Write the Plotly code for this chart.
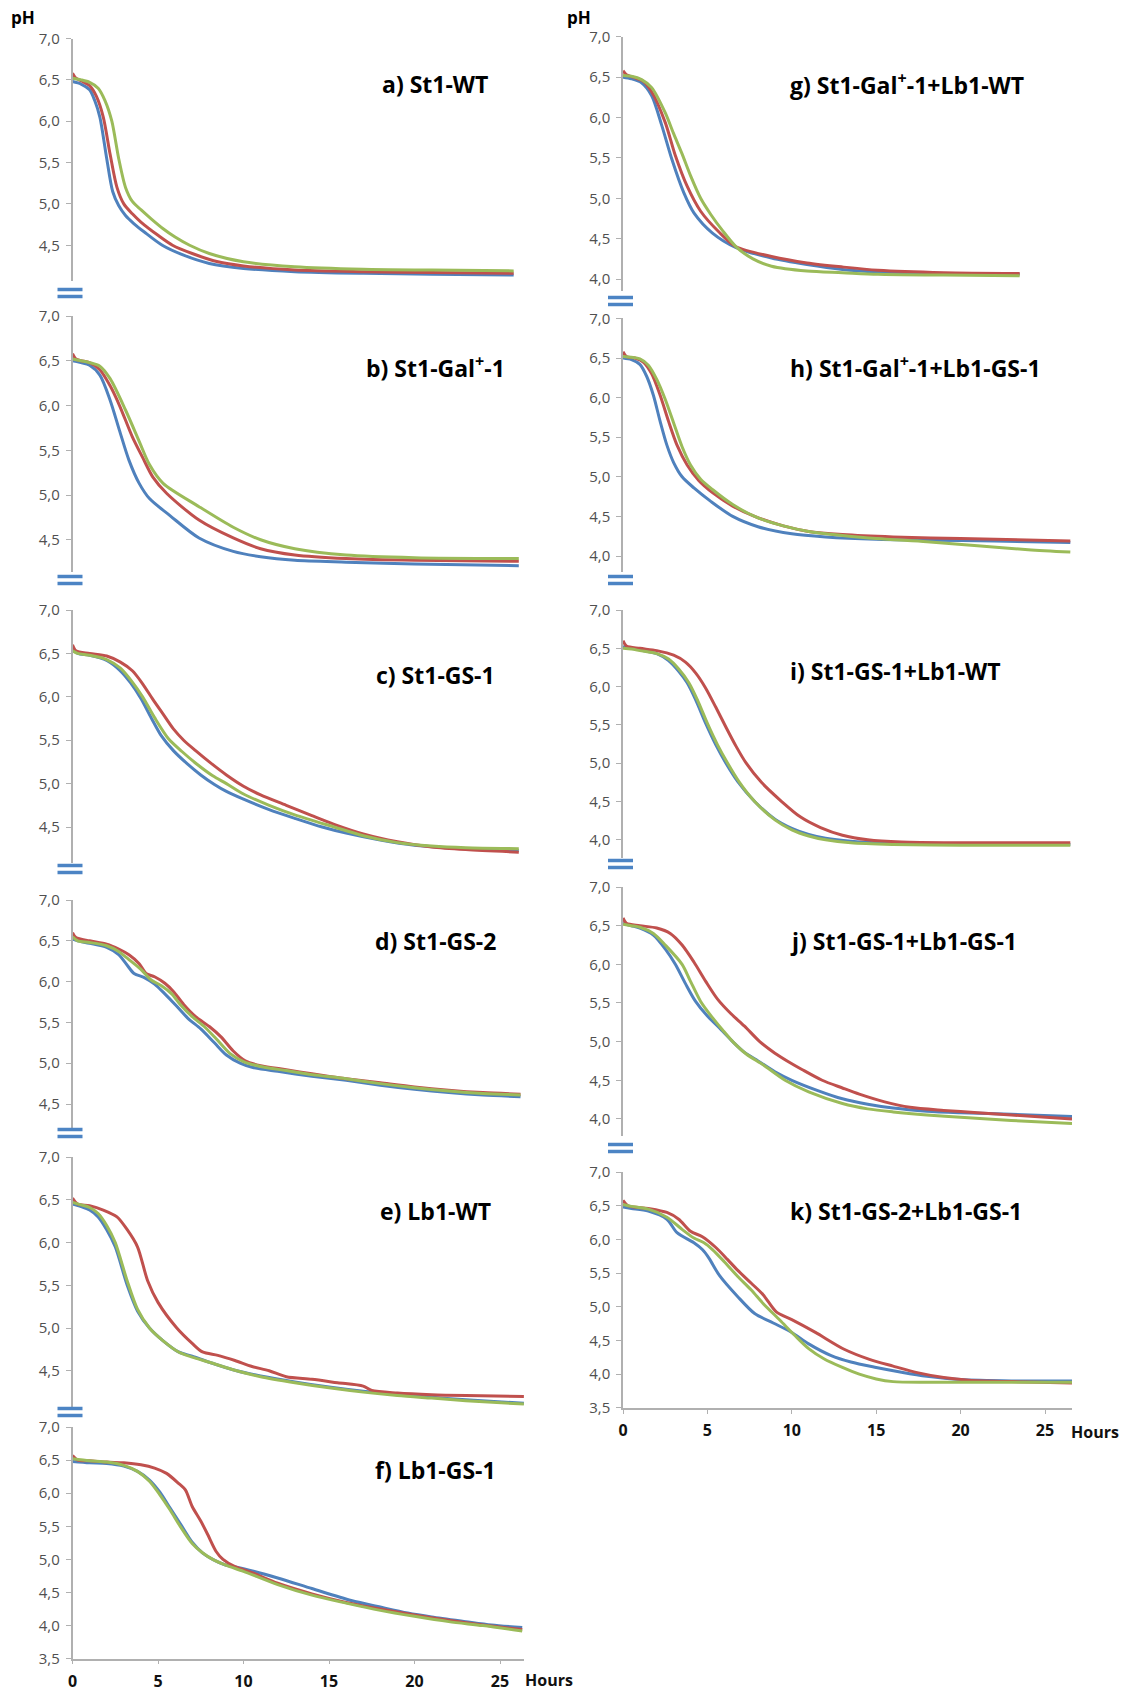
import plotly.graph_objects as go

# ------------------------------------------------------------------
# Data (hours, pH)
# ------------------------------------------------------------------
A_BLUE_T = [0, 0.5, 1, 1.3, 1.6, 2.0, 2.35, 2.7, 3.1, 3.6, 4.2, 5.25, 6.5, 8, 10, 13, 17, 21, 25.8]
A_BLUE_PH = [6.48, 6.45, 6.38, 6.25, 6.05, 5.55, 5.15, 4.98, 4.86, 4.76, 4.66, 4.5, 4.38, 4.28, 4.22, 4.18, 4.16, 4.15, 4.14]
A_RED_T = [0, 0.2, 0.5, 1, 1.4, 1.8, 2.2, 2.6, 3.0, 3.5, 4, 5, 5.85, 7, 8.5, 10, 13, 17, 21, 25.8]
A_RED_PH = [6.58, 6.52, 6.49, 6.43, 6.3, 6.05, 5.6, 5.2, 5.0, 4.88, 4.78, 4.62, 4.5, 4.4, 4.3, 4.25, 4.2, 4.18, 4.17, 4.16]
A_GREEN_T = [0, 0.5, 1, 1.5, 1.9, 2.3, 2.7, 3.1, 3.5, 4.0, 4.6, 5.3, 6.0, 6.85, 8, 10, 13, 17, 21, 25.8]
A_GREEN_PH = [6.52, 6.5, 6.47, 6.4, 6.25, 6.0, 5.55, 5.2, 5.03, 4.93, 4.82, 4.7, 4.6, 4.5, 4.4, 4.3, 4.24, 4.21, 4.2, 4.19]

B_BLUE_T = [0, 0.5, 1, 1.6, 2.2, 2.75, 3.3, 3.9, 4.5, 5.7, 7.4, 9.4, 11, 13, 16, 20, 26.1]
B_BLUE_PH = [6.5, 6.48, 6.45, 6.34, 6.06, 5.72, 5.39, 5.13, 4.96, 4.77, 4.52, 4.37, 4.31, 4.27, 4.25, 4.23, 4.21]
B_RED_T = [0, 0.2, 0.5, 1, 1.6, 2.2, 2.75, 3.5, 4.1, 4.7, 5.5, 7.4, 9.4, 11, 13, 16, 20, 26.1]
B_RED_PH = [6.58, 6.52, 6.5, 6.48, 6.4, 6.22, 6.0, 5.65, 5.42, 5.2, 5.02, 4.72, 4.52, 4.4, 4.33, 4.29, 4.27, 4.26]
B_GREEN_T = [0, 0.5, 1, 1.6, 2.2, 3.1, 3.9, 4.5, 5.3, 7.4, 9.4, 11, 13, 16, 20, 26.1]
B_GREEN_PH = [6.52, 6.5, 6.48, 6.44, 6.3, 5.95, 5.6, 5.34, 5.13, 4.87, 4.64, 4.5, 4.4, 4.33, 4.3, 4.29]

C_BLUE_T = [0, 0.3, 1, 2, 2.8, 3.4, 4, 4.6, 5.2, 5.9, 6.7, 7.5, 8.3, 9, 10, 11.5, 13, 14.6, 16, 18, 20, 22, 24, 26.1]
C_BLUE_PH = [6.55, 6.5, 6.48, 6.42, 6.3, 6.16, 5.98, 5.76, 5.55, 5.38, 5.23, 5.1, 4.99, 4.91, 4.82, 4.7, 4.6, 4.5, 4.43, 4.35, 4.29, 4.26, 4.24, 4.23]
C_RED_T = [0, 0.2, 1, 2, 2.8, 3.5, 4.1, 4.7, 5.3, 5.9, 6.5, 7.2, 8, 9, 10, 11, 12.5, 14, 15.3, 17, 19, 21, 23, 26.1]
C_RED_PH = [6.6, 6.53, 6.5, 6.47, 6.4, 6.3, 6.15, 5.97, 5.8, 5.63, 5.5, 5.38, 5.25, 5.1, 4.97, 4.87, 4.75, 4.63, 4.53, 4.42, 4.33, 4.27, 4.24, 4.21]
C_GREEN_T = [0, 0.3, 1, 2, 2.8, 3.5, 4.1, 4.8, 5.6, 6.4, 7.3, 8.2, 9, 10, 11.5, 13, 15.3, 17, 19, 21, 23, 26.1]
C_GREEN_PH = [6.53, 6.5, 6.48, 6.43, 6.33, 6.17, 6.0, 5.76, 5.52, 5.37, 5.22, 5.09, 5.0, 4.88, 4.75, 4.64, 4.5, 4.4, 4.32, 4.28, 4.26, 4.25]

D_BLUE_T = [0, 0.3, 1, 2, 2.7, 3.2, 3.6, 4.2, 4.8, 5.4, 6, 6.75, 7.5, 8.3, 9, 9.8, 10.5, 12, 14, 16, 18, 20, 22, 24, 26.2]
D_BLUE_PH = [6.52, 6.5, 6.47, 6.42, 6.33, 6.2, 6.1, 6.05, 5.97, 5.85, 5.72, 5.55, 5.42, 5.25, 5.1, 5.0, 4.95, 4.9, 4.84, 4.79, 4.73, 4.68, 4.64, 4.61, 4.59]
D_RED_T = [0, 0.2, 1, 2, 2.7, 3.3, 3.9, 4.3, 4.8, 5.4, 5.9, 6.5, 7.2, 8, 8.7, 9.4, 10.1, 11, 12.5, 14, 16, 18, 20, 22, 24, 26.2]
D_RED_PH = [6.6, 6.54, 6.5, 6.46, 6.4, 6.33, 6.22, 6.1, 6.06, 5.98, 5.88, 5.72, 5.57, 5.45, 5.32, 5.15, 5.03, 4.97, 4.92, 4.87, 4.81, 4.76, 4.71, 4.67, 4.64, 4.62]
D_GREEN_T = [0, 0.3, 1, 2, 2.7, 3.3, 4, 4.6, 5.2, 5.8, 6.3, 7, 7.7, 8.4, 9.2, 10, 11, 12.5, 14, 16, 18, 20, 22, 24, 26.2]
D_GREEN_PH = [6.55, 6.5, 6.48, 6.44, 6.37, 6.27, 6.15, 6.02, 5.95, 5.85, 5.72, 5.57, 5.45, 5.3, 5.12, 5.02, 4.96, 4.91, 4.86, 4.81, 4.75, 4.7, 4.66, 4.63, 4.61]

E_BLUE_T = [0, 0.5, 1, 1.5, 2, 2.5, 3.2, 3.8, 4.5, 5.3, 6.2, 7, 8, 9.6, 11, 13, 15, 17, 19, 21, 23, 26.4]
E_BLUE_PH = [6.45, 6.42, 6.38, 6.3, 6.15, 5.95, 5.5, 5.2, 5.0, 4.85, 4.72, 4.67, 4.6, 4.5, 4.44, 4.37, 4.31, 4.26, 4.22, 4.19, 4.16, 4.12]
E_RED_T = [0, 0.3, 1, 1.8, 2.6, 3.2, 3.8, 4.4, 5, 6.1, 7, 7.6, 8.5, 9.5, 10.5, 11.5, 12.5, 14, 15.5, 17, 17.5, 19, 21, 23, 26.4]
E_RED_PH = [6.52, 6.45, 6.43, 6.38, 6.3, 6.15, 5.95, 5.55, 5.3, 5.0, 4.82, 4.72, 4.68, 4.62, 4.55, 4.5, 4.43, 4.4, 4.36, 4.32, 4.27, 4.24, 4.22, 4.21, 4.2]
E_GREEN_T = [0, 0.5, 1, 1.5, 2, 2.5, 3.2, 3.8, 4.5, 5.3, 6.2, 7, 8, 9.6, 11, 13, 15, 17, 19, 21, 23, 26.4]
E_GREEN_PH = [6.47, 6.44, 6.41, 6.34, 6.2, 6.0, 5.55, 5.22, 5.0, 4.85, 4.72, 4.66, 4.6, 4.5, 4.43, 4.36, 4.3, 4.25, 4.21, 4.18, 4.15, 4.11]

F_BLUE_T = [0, 1, 2, 3, 3.8, 4.5, 5.1, 5.7, 6.4, 7, 7.6, 8.2, 8.9, 10, 12, 14, 16.3, 18, 19.6, 21, 23, 24.5, 26.3]
F_BLUE_PH = [6.48, 6.46, 6.45, 6.41, 6.33, 6.2, 6.02, 5.78, 5.5, 5.26, 5.1, 5.0, 4.92, 4.86, 4.72, 4.56, 4.38, 4.28, 4.19, 4.13, 4.06, 4.01, 3.97]
F_RED_T = [0, 0.3, 1, 2, 3, 4, 4.8, 5.5, 6.2, 6.6, 7, 7.5, 7.9, 8.4, 8.8, 9.5, 10.5, 12, 14, 16, 18, 20, 22, 24, 26.3]
F_RED_PH = [6.57, 6.5, 6.49, 6.47, 6.46, 6.43, 6.38, 6.3, 6.15, 6.05, 5.8, 5.58, 5.38, 5.12, 5.0, 4.89, 4.8, 4.64, 4.48, 4.35, 4.25, 4.16, 4.08, 4.01, 3.94]
F_GREEN_T = [0, 1, 2, 3, 3.8, 4.5, 5.1, 5.7, 6.3, 7, 7.6, 8.2, 9, 10, 12, 14, 16, 18, 20, 22, 24, 26.3]
F_GREEN_PH = [6.52, 6.49, 6.47, 6.42, 6.33, 6.18, 5.98, 5.75, 5.5, 5.24, 5.1, 5.0, 4.91, 4.82, 4.62, 4.46, 4.34, 4.23, 4.14, 4.06, 4.0, 3.92]

G_BLUE_T = [0, 0.5, 1.1, 1.7, 2.3, 2.9, 3.6, 4.2, 5.3, 6.7, 8.8, 10.9, 13, 15.1, 19, 23.5]
G_BLUE_PH = [6.5, 6.48, 6.43, 6.27, 5.9, 5.48, 5.07, 4.82, 4.57, 4.39, 4.26, 4.18, 4.12, 4.09, 4.07, 4.06]
G_RED_T = [0, 0.2, 0.6, 1.2, 1.7, 2.5, 3.1, 3.8, 4.6, 5.7, 6.7, 8.8, 10.9, 13, 15.1, 19, 23.5]
G_RED_PH = [6.58, 6.53, 6.5, 6.45, 6.32, 5.94, 5.53, 5.15, 4.84, 4.58, 4.4, 4.28, 4.2, 4.15, 4.11, 4.08, 4.07]
G_GREEN_T = [0, 0.5, 1.1, 1.7, 2.5, 3.0, 3.5, 4.0, 4.6, 5.2, 5.9, 6.7, 7.7, 8.8, 10.9, 13, 15.1, 19, 23.5]
G_GREEN_PH = [6.52, 6.51, 6.47, 6.37, 6.06, 5.8, 5.55, 5.28, 5.0, 4.8, 4.6, 4.4, 4.25, 4.16, 4.1, 4.08, 4.06, 4.05, 4.04]

H_BLUE_T = [0, 0.5, 1, 1.4, 1.8, 2.2, 2.6, 3.0, 3.5, 4.2, 5.2, 6.5, 8, 10, 12, 15, 18, 22, 26.5]
H_BLUE_PH = [6.5, 6.48, 6.42, 6.27, 6.03, 5.7, 5.4, 5.18, 5.0, 4.86, 4.69, 4.5, 4.37, 4.28, 4.24, 4.21, 4.2, 4.19, 4.17]
H_RED_T = [0, 0.2, 0.7, 1.2, 1.7, 2.2, 2.7, 3.2, 3.8, 4.5, 5.3, 6.5, 7.8, 9.5, 11, 13, 16, 20, 26.5]
H_RED_PH = [6.58, 6.52, 6.5, 6.45, 6.3, 6.03, 5.7, 5.4, 5.15, 4.95, 4.8, 4.63, 4.5, 4.38, 4.31, 4.27, 4.24, 4.22, 4.19]
H_GREEN_T = [0, 0.5, 1, 1.5, 2.0, 2.5, 3.0, 3.5, 4.0, 4.6, 5.3, 6.5, 7.8, 9.5, 11, 13, 15, 18, 21, 24, 26.5]
H_GREEN_PH = [6.52, 6.51, 6.49, 6.41, 6.23, 5.98, 5.68, 5.38, 5.15, 4.97, 4.84, 4.65, 4.5, 4.38, 4.31, 4.26, 4.22, 4.18, 4.13, 4.08, 4.05]

I_BLUE_T = [0, 0.5, 1, 2, 2.7, 3.3, 3.8, 4.3, 4.9, 5.5, 6.1, 6.8, 7.8, 9, 10, 11, 12, 13.5, 16, 20, 26.5]
I_BLUE_PH = [6.52, 6.5, 6.48, 6.43, 6.34, 6.2, 6.05, 5.83, 5.52, 5.24, 5.0, 4.76, 4.5, 4.27, 4.15, 4.07, 4.02, 3.98, 3.95, 3.94, 3.94]
I_RED_T = [0, 0.2, 1, 2, 3, 3.7, 4.3, 4.9, 5.5, 6.1, 6.7, 7.3, 8.2, 9.4, 10.5, 11.7, 13, 14.5, 16.5, 20, 26.5]
I_RED_PH = [6.6, 6.53, 6.5, 6.47, 6.41, 6.32, 6.18, 5.98, 5.73, 5.47, 5.22, 5.0, 4.75, 4.5, 4.3, 4.16, 4.06, 4.0, 3.97, 3.96, 3.96]
I_GREEN_T = [0, 0.5, 1, 2, 2.7, 3.3, 3.9, 4.4, 5.0, 5.6, 6.2, 6.9, 7.8, 9, 10, 11, 12, 13.5, 16, 20, 26.5]
I_GREEN_PH = [6.5, 6.49, 6.47, 6.43, 6.36, 6.23, 6.05, 5.83, 5.52, 5.24, 5.0, 4.75, 4.5, 4.26, 4.13, 4.05, 4.0, 3.96, 3.94, 3.93, 3.93]

J_BLUE_T = [0, 0.5, 1, 1.8, 2.5, 3.1, 3.7, 4.3, 5, 5.7, 6.5, 7.2, 8, 9, 10, 11.5, 13, 14.5, 16, 18, 20, 23, 26.6]
J_BLUE_PH = [6.53, 6.5, 6.47, 6.38, 6.2, 6.0, 5.75, 5.52, 5.33, 5.18, 5.0, 4.86, 4.75, 4.61, 4.5, 4.37, 4.26, 4.19, 4.14, 4.1, 4.08, 4.06, 4.03]
J_RED_T = [0, 0.2, 1, 2, 2.8, 3.5, 4.2, 4.9, 5.6, 6.4, 7.2, 8.1, 9, 9.8, 10.6, 11.8, 13, 14, 15.5, 17, 19, 21, 23, 26.6]
J_RED_PH = [6.6, 6.53, 6.5, 6.47, 6.4, 6.25, 6.03, 5.78, 5.55, 5.36, 5.2, 5.0, 4.85, 4.74, 4.64, 4.5, 4.4, 4.32, 4.22, 4.15, 4.11, 4.08, 4.05, 4.0]
J_GREEN_T = [0, 0.5, 1, 1.8, 2.5, 3.5, 4, 4.6, 5.3, 5.9, 6.5, 7.3, 8.3, 9.6, 11, 13, 14.5, 16, 18, 20, 23, 26.6]
J_GREEN_PH = [6.52, 6.5, 6.48, 6.4, 6.25, 6.0, 5.78, 5.52, 5.31, 5.15, 5.0, 4.84, 4.7, 4.5, 4.35, 4.2, 4.13, 4.09, 4.05, 4.02, 3.98, 3.94]

K_BLUE_T = [0, 0.5, 1.5, 2.6, 3.2, 4.2, 4.7, 5.1, 5.7, 6.8, 7.8, 8.9, 10, 11, 12.3, 13.5, 15, 16.5, 18, 20, 23, 26.6]
K_BLUE_PH = [6.48, 6.46, 6.42, 6.3, 6.1, 5.95, 5.85, 5.72, 5.47, 5.15, 4.9, 4.76, 4.62, 4.45, 4.28, 4.18, 4.1, 4.03, 3.97, 3.92, 3.9, 3.9]
K_RED_T = [0, 0.3, 1.5, 2.6, 3.3, 4, 4.7, 5.5, 6.2, 6.8, 7.6, 8.3, 9.1, 10, 11.4, 13.1, 14.6, 16, 17.5, 19, 20.5, 23, 26.6]
K_RED_PH = [6.58, 6.5, 6.46, 6.4, 6.3, 6.12, 6.04, 5.88, 5.7, 5.54, 5.35, 5.18, 4.92, 4.81, 4.62, 4.37, 4.22, 4.12, 4.02, 3.95, 3.91, 3.89, 3.87]
K_GREEN_T = [0, 0.5, 1.5, 2.6, 3.5, 4.2, 4.8, 5.3, 6, 6.8, 7.6, 8.3, 9.3, 10.2, 11, 11.9, 13, 14, 15, 16, 18, 22, 26.6]
K_GREEN_PH = [6.52, 6.49, 6.45, 6.33, 6.15, 6.02, 5.95, 5.85, 5.67, 5.45, 5.25, 5.05, 4.8, 4.57, 4.38, 4.23, 4.1, 4.0, 3.93, 3.89, 3.88, 3.88, 3.88]

X_TICKS = [0, 5, 10, 15, 20, 25]
X_TICK_LABELS = ["0", "5", "10", "15", "20", "25"]

TITLES = {
    "a": "a) St1-WT", "b": "b) St1-Gal<sup>+</sup>-1", "c": "c) St1-GS-1",
    "d": "d) St1-GS-2", "e": "e) Lb1-WT", "f": "f) Lb1-GS-1",
    "g": "g) St1-Gal<sup>+</sup>-1+Lb1-WT", "h": "h) St1-Gal<sup>+</sup>-1+Lb1-GS-1",
    "i": "i) St1-GS-1+Lb1-WT", "j": "j) St1-GS-1+Lb1-GS-1", "k": "k) St1-GS-2+Lb1-GS-1",
}

SERIES = {
    "a": [(A_BLUE_T, A_BLUE_PH), (A_RED_T, A_RED_PH), (A_GREEN_T, A_GREEN_PH)],
    "b": [(B_BLUE_T, B_BLUE_PH), (B_RED_T, B_RED_PH), (B_GREEN_T, B_GREEN_PH)],
    "c": [(C_BLUE_T, C_BLUE_PH), (C_RED_T, C_RED_PH), (C_GREEN_T, C_GREEN_PH)],
    "d": [(D_BLUE_T, D_BLUE_PH), (D_RED_T, D_RED_PH), (D_GREEN_T, D_GREEN_PH)],
    "e": [(E_BLUE_T, E_BLUE_PH), (E_RED_T, E_RED_PH), (E_GREEN_T, E_GREEN_PH)],
    "f": [(F_BLUE_T, F_BLUE_PH), (F_RED_T, F_RED_PH), (F_GREEN_T, F_GREEN_PH)],
    "g": [(G_BLUE_T, G_BLUE_PH), (G_RED_T, G_RED_PH), (G_GREEN_T, G_GREEN_PH)],
    "h": [(H_BLUE_T, H_BLUE_PH), (H_RED_T, H_RED_PH), (H_GREEN_T, H_GREEN_PH)],
    "i": [(I_BLUE_T, I_BLUE_PH), (I_RED_T, I_RED_PH), (I_GREEN_T, I_GREEN_PH)],
    "j": [(J_BLUE_T, J_BLUE_PH), (J_RED_T, J_RED_PH), (J_GREEN_T, J_GREEN_PH)],
    "k": [(K_BLUE_T, K_BLUE_PH), (K_RED_T, K_RED_PH), (K_GREEN_T, K_GREEN_PH)],
}
COLORS = ["#4F81BD", "#C0504D", "#9BBB59"]

# ------------------------------------------------------------------
# Layout (pixel geometry of each panel)
# ------------------------------------------------------------------
W, H = 1128, 1693
# left-column titles are centred, right-column titles are left-aligned
COLS = {0: dict(x0=72.5, pph=17.1, xmax=26.4, tx=435, tanchor="center"),
        1: dict(x0=623.0, pph=16.88, xmax=26.6, tx=788, tanchor="left")}
PANELS = [
    ("a", 0, 38.5, 82.7, 4.07, 84, False),
    ("b", 0, 316.0, 89.5, 4.14, 367, False),
    ("c", 0, 610.0, 86.8, 4.08, 675, False),
    ("d", 0, 900.0, 81.6, 4.20, 941, False),
    ("e", 0, 1157.0, 85.5, 4.06, 1211, False),
    ("f", 0, 1427.0, 66.2, 3.50, 1470, True),
    ("g", 1, 36.7, 80.8, 3.85, 84, False),
    ("h", 1, 318.4, 79.2, 3.80, 367, False),
    ("i", 1, 610.0, 76.6, 3.76, 671, False),
    ("j", 1, 887.0, 77.3, 3.78, 941, False),
    ("k", 1, 1172.0, 67.4, 3.50, 1211, True),
]
BREAKS = [(0, 293), (0, 580), (0, 869), (0, 1133), (0, 1412),
          (1, 301), (1, 580), (1, 864), (1, 1148)]

FONT = "Open Sans"
fig = go.Figure()
layout = dict(width=W, height=H, margin=dict(l=0, r=0, t=0, b=0, pad=0),
              paper_bgcolor="white", plot_bgcolor="white", template="none",
              showlegend=False, separators=",.")
annotations = []
shapes = []

for idx, (key, col, ytop, ppu, ymin, ty, with_x) in enumerate(PANELS, start=1):
    c = COLS[col]
    ybot = ytop + (7.0 - ymin) * ppu
    x1 = c["x0"] + c["xmax"] * c["pph"]
    xa = "x" if idx == 1 else f"x{idx}"
    ya = "y" if idx == 1 else f"y{idx}"
    for (t, p), colr in zip(SERIES[key], COLORS):
        fig.add_trace(go.Scatter(x=t, y=p, mode="lines", xaxis=xa, yaxis=ya,
                                 line=dict(color=colr, width=3, shape="spline", smoothing=0.8),
                                 hoverinfo="skip"))
    xkey = "xaxis" if idx == 1 else f"xaxis{idx}"
    ykey = "yaxis" if idx == 1 else f"yaxis{idx}"
    xdict = dict(domain=[c["x0"] / W, x1 / W], range=[0, c["xmax"]], anchor=ya,
                 showgrid=False, zeroline=False, automargin=False)
    if with_x:
        xdict.update(showline=True, linecolor="#B0B0B0", linewidth=1.5,
                     ticks="outside", ticklen=4, tickcolor="#B0B0B0",
                     tickvals=X_TICKS, ticktext=X_TICK_LABELS,
                     tickfont=dict(family=FONT, size=16, color="#111111", weight="bold"),
                     ticklabelstandoff=3)
    else:
        xdict.update(showline=False, showticklabels=False, ticks="")
    layout[xkey] = xdict
    layout[ykey] = dict(domain=[1 - ybot / H, 1 - ytop / H], range=[ymin, 7.0005], anchor=xa,
                        showgrid=False, zeroline=False, showline=True, automargin=False,
                        linecolor="#B0B0B0", linewidth=1.5,
                        ticks="outside", ticklen=5, tickcolor="#B0B0B0",
                        tick0=3.5, dtick=0.5, tickformat=".1f", ticklabelstandoff=3,
                        tickfont=dict(family=FONT, size=15, color="#505050"))
    annotations.append(dict(text=TITLES[key], x=c["tx"] / W, y=1 - ty / H, xref="paper", yref="paper",
                            xanchor=c["tanchor"], yanchor="middle", showarrow=False,
                            font=dict(family=FONT, size=23, color="#000000", weight="bold")))

# axis labels
for xpx in (9, 565):
    annotations.append(dict(text="pH", x=xpx / W, y=1 - 17 / H, xref="paper", yref="paper",
                            xanchor="left", yanchor="middle", showarrow=False,
                            font=dict(family=FONT, size=17, color="#000000", weight="bold")))
for xpx, ypx in ((523, 1680), (1069, 1432)):
    annotations.append(dict(text="Hours", x=xpx / W, y=1 - ypx / H, xref="paper", yref="paper",
                            xanchor="left", yanchor="middle", showarrow=False,
                            font=dict(family=FONT, size=16, color="#111111", weight="bold")))

# axis-break marks "="
for col, ypx in BREAKS:
    cx = COLS[col]["x0"] - 2.5
    for dy in (-3.5, 3.5):
        shapes.append(dict(type="line", xref="paper", yref="paper",
                           x0=(cx - 12.5) / W, x1=(cx + 12.5) / W,
                           y0=1 - (ypx + dy) / H, y1=1 - (ypx + dy) / H,
                           line=dict(color="#4C84C4", width=3.5)))

layout["annotations"] = annotations
layout["shapes"] = shapes
fig.update_layout(**layout)
fig.write_html("out.html", config={"displayModeBar": False},
               post_script="document.body.style.margin='0';document.body.style.overflow='hidden';")
